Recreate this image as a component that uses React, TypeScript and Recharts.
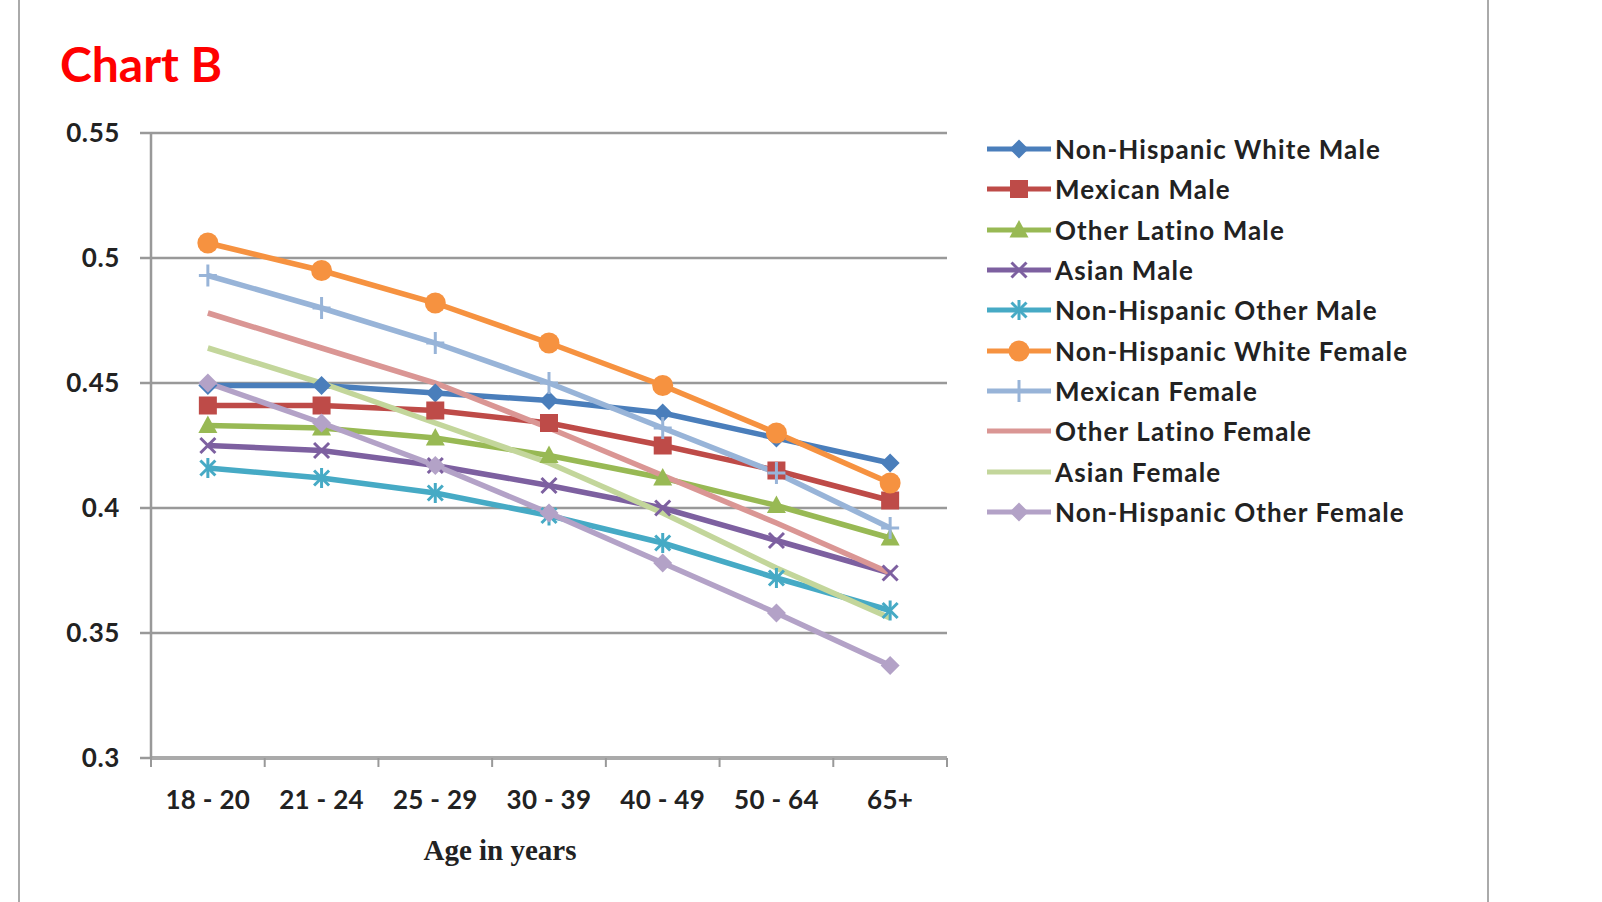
import { ComposedChart, Line, XAxis, YAxis, CartesianGrid, Legend, Label } from "recharts";

/* age groups on the x axis */
const AGE_GROUPS = ["18 - 20", "21 - 24", "25 - 29", "30 - 39", "40 - 49", "50 - 64", "65+"];

/* one list per series */
const NH_WHITE_MALE = [0.449, 0.449, 0.446, 0.443, 0.438, 0.428, 0.418];
const MEXICAN_MALE = [0.441, 0.441, 0.439, 0.434, 0.425, 0.415, 0.403];
const OTHER_LATINO_MALE = [0.433, 0.432, 0.428, 0.421, 0.412, 0.401, 0.388];
const ASIAN_MALE = [0.425, 0.423, 0.417, 0.409, 0.4, 0.387, 0.374];
const NH_OTHER_MALE = [0.416, 0.412, 0.406, 0.397, 0.386, 0.372, 0.359];
const NH_WHITE_FEMALE = [0.506, 0.495, 0.482, 0.466, 0.449, 0.43, 0.41];
const MEXICAN_FEMALE = [0.493, 0.48, 0.466, 0.45, 0.432, 0.414, 0.392];
const OTHER_LATINO_FEMALE = [0.478, 0.464, 0.45, 0.432, 0.413, 0.394, 0.374];
const ASIAN_FEMALE = [0.464, 0.45, 0.434, 0.418, 0.398, 0.376, 0.356];
const NH_OTHER_FEMALE = [0.45, 0.434, 0.417, 0.398, 0.378, 0.358, 0.337];

const Y_TICKS = [0.3, 0.35, 0.4, 0.45, 0.5, 0.55];

type MarkerKind = "diamond" | "square" | "triangle" | "x" | "star" | "circle" | "plus" | "none";

const SERIES: { key: string; name: string; values: number[]; color: string; marker: MarkerKind }[] = [
  { key: "nhwm", name: "Non-Hispanic White Male", values: NH_WHITE_MALE, color: "#4a7ebb", marker: "diamond" },
  { key: "mm", name: "Mexican Male", values: MEXICAN_MALE, color: "#be4b48", marker: "square" },
  { key: "olm", name: "Other Latino Male", values: OTHER_LATINO_MALE, color: "#98b954", marker: "triangle" },
  { key: "am", name: "Asian Male", values: ASIAN_MALE, color: "#7d60a0", marker: "x" },
  { key: "nhom", name: "Non-Hispanic Other Male", values: NH_OTHER_MALE, color: "#46aac5", marker: "star" },
  { key: "nhwf", name: "Non-Hispanic White Female", values: NH_WHITE_FEMALE, color: "#f69240", marker: "circle" },
  { key: "mf", name: "Mexican Female", values: MEXICAN_FEMALE, color: "#98b4d8", marker: "plus" },
  { key: "olf", name: "Other Latino Female", values: OTHER_LATINO_FEMALE, color: "#da9694", marker: "none" },
  { key: "af", name: "Asian Female", values: ASIAN_FEMALE, color: "#c3d69b", marker: "none" },
  { key: "nhof", name: "Non-Hispanic Other Female", values: NH_OTHER_FEMALE, color: "#b3a2c7", marker: "diamond" },
];

const rows = AGE_GROUPS.map((age, i) => {
  const row: Record<string, string | number> = { age };
  SERIES.forEach(s => { row[s.key] = s.values[i]; });
  return row;
});

/* layout */
const CHART_W = 1500;
const CHART_H = 880;
const PLOT_LEFT = 151;
const PLOT_RIGHT = 947;
const PLOT_TOP = 133;
const PLOT_BOTTOM = 758;
const BAND = (PLOT_RIGHT - PLOT_LEFT) / AGE_GROUPS.length;
const TEXT = "#222";
const FONT = "Lato, 'Noto Sans', sans-serif";

function Marker({ kind, cx, cy, color }: { kind: MarkerKind; cx: number; cy: number; color: string }) {
  switch (kind) {
    case "diamond":
      return <polygon points={`${cx},${cy - 9.5} ${cx + 9.5},${cy} ${cx},${cy + 9.5} ${cx - 9.5},${cy}`} fill={color} />;
    case "square":
      return <rect x={cx - 9} y={cy - 9} width={18} height={18} fill={color} />;
    case "triangle":
      return <polygon points={`${cx},${cy - 10} ${cx + 9.5},${cy + 7.5} ${cx - 9.5},${cy + 7.5}`} fill={color} />;
    case "x":
      return (
        <g stroke={color} strokeWidth={3}>
          <line x1={cx - 7.5} y1={cy - 7.5} x2={cx + 7.5} y2={cy + 7.5} />
          <line x1={cx - 7.5} y1={cy + 7.5} x2={cx + 7.5} y2={cy - 7.5} />
        </g>
      );
    case "star":
      return (
        <g stroke={color} strokeWidth={3}>
          <line x1={cx - 7.5} y1={cy - 7.5} x2={cx + 7.5} y2={cy + 7.5} />
          <line x1={cx - 7.5} y1={cy + 7.5} x2={cx + 7.5} y2={cy - 7.5} />
          <line x1={cx} y1={cy - 10} x2={cx} y2={cy + 10} />
        </g>
      );
    case "circle":
      return <circle cx={cx} cy={cy} r={10.5} fill={color} />;
    case "plus":
      return (
        <g stroke={color} strokeWidth={3}>
          <line x1={cx - 9} y1={cy} x2={cx + 9} y2={cy} />
          <line x1={cx} y1={cy - 11} x2={cx} y2={cy + 11} />
        </g>
      );
    default:
      return null;
  }
}

function XTick(props: any) {
  const { x, payload, index } = props;
  const last = index === AGE_GROUPS.length - 1;
  return (
    <g>
      <line x1={x - BAND / 2} x2={x - BAND / 2} y1={PLOT_BOTTOM} y2={PLOT_BOTTOM + 9} stroke="#999" strokeWidth={2} />
      {last && <line x1={x + BAND / 2} x2={x + BAND / 2} y1={PLOT_BOTTOM} y2={PLOT_BOTTOM + 9} stroke="#999" strokeWidth={2} />}
      <text
        x={x}
        y={PLOT_BOTTOM + 51}
        textAnchor="middle"
        fill={TEXT}
        fontSize={26}
        fontWeight={700}
        fontFamily={FONT}
        letterSpacing={0.3}
      >
        {payload.value}
      </text>
    </g>
  );
}

function LegendBox() {
  return (
    <div style={{ fontFamily: FONT }}>
      {SERIES.map(s => (
        <div key={s.key} style={{ height: 40.3, display: "flex", alignItems: "center" }}>
          <svg width={68} height={24} style={{ flex: "none" }}>
            <line x1={2} x2={66} y1={12} y2={12} stroke={s.color} strokeWidth={5} />
            <Marker kind={s.marker} cx={34} cy={12} color={s.color} />
          </svg>
          <span style={{ fontSize: 26, fontWeight: 700, color: TEXT, whiteSpace: "nowrap", marginLeft: 2, letterSpacing: 1.1 }}>
            {s.name}
          </span>
        </div>
      ))}
    </div>
  );
}

export default function App() {
  return (
    <div style={{ position: "absolute", left: 0, top: 0, width: 1602, height: 902, background: "#fff", overflow: "hidden" }}>
      {/* page frame */}
      <div style={{ position: "absolute", left: 18, top: 0, width: 2, height: 902, background: "#aaa" }} />
      <div style={{ position: "absolute", left: 1487, top: 0, width: 2, height: 902, background: "#aaa" }} />

      <div style={{ position: "absolute", left: 60, top: 40, fontFamily: FONT, fontWeight: 700, fontSize: 48, lineHeight: "48px", color: "#ff0000" }}>
        Chart B
      </div>

      <div style={{ position: "absolute", left: 0, top: 0 }}>
        <ComposedChart
          width={CHART_W}
          height={CHART_H}
          data={rows}
          margin={{ top: PLOT_TOP, left: PLOT_LEFT - 60, right: CHART_W - PLOT_RIGHT, bottom: CHART_H - PLOT_BOTTOM - 110 }}
        >
          <CartesianGrid vertical={false} stroke="#999" strokeWidth={2.5} />
          <XAxis
            dataKey="age"
            scale="band"
            height={110}
            axisLine={{ stroke: "#aaa", strokeWidth: 4 }}
            tickLine={false}
            tick={<XTick />}
            interval={0}
          >
            <Label
              value="Age in years"
              position="insideBottom"
              offset={8}
              dx={-49}
              style={{ fontFamily: "'Liberation Serif', 'Times New Roman', serif", fontSize: 29, fontWeight: 700, fill: TEXT }}
            />
          </XAxis>
          <YAxis
            width={60}
            domain={[0.3, 0.55]}
            ticks={Y_TICKS}
            interval={0}
            allowDataOverflow
            axisLine={{ stroke: "#999", strokeWidth: 2.5 }}
            tickLine={{ stroke: "#999", strokeWidth: 2.5 }}
            tickSize={11}
            tickMargin={20}
            tickFormatter={(v: number) => String(v)}
            tick={{ fill: TEXT, fontSize: 26, fontWeight: 700, fontFamily: FONT, letterSpacing: 0.6 }}
          />
          <Legend
            layout="vertical"
            align="center"
            verticalAlign="middle"
            wrapperStyle={{ left: 985, top: 129, width: 500 }}
            content={() => <LegendBox />}
          />
          {SERIES.map(s => (
            <Line
              key={s.key}
              dataKey={s.key}
              name={s.name}
              type="linear"
              stroke={s.color}
              strokeWidth={5.5}
              isAnimationActive={false}
              activeDot={false}
              dot={
                s.marker === "none"
                  ? false
                  : (p: any) => <Marker key={`${s.key}-${p.index}`} kind={s.marker} cx={p.cx} cy={p.cy} color={s.color} />
              }
            />
          ))}
        </ComposedChart>
      </div>
    </div>
  );
}
